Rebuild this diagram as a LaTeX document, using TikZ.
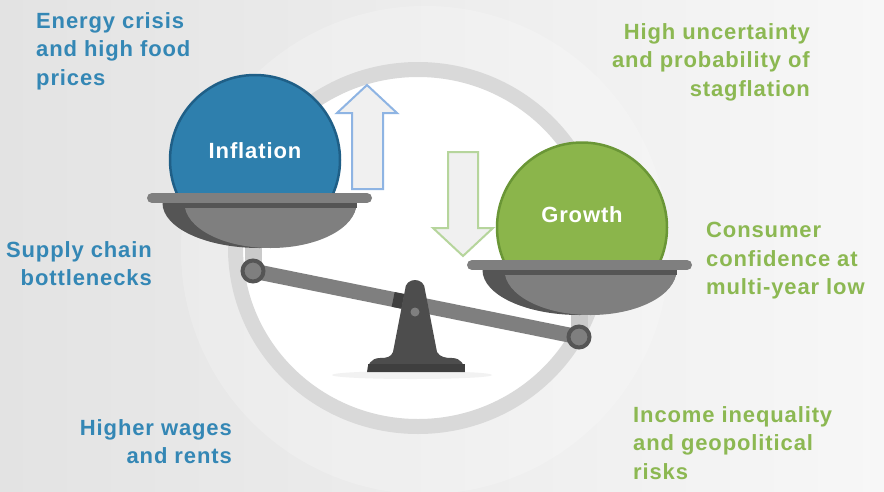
\documentclass[tikz,border=0pt]{standalone}
\usepackage{fontspec}
\setmainfont{Liberation Sans}[LetterSpace=4]
\usepackage{xcolor}
\usetikzlibrary{positioning, calc}

\definecolor{inflblue}{HTML}{2E7FAD}
\definecolor{infldark}{HTML}{1F5F87}
\definecolor{textblue}{HTML}{3487B5}
\definecolor{growgreen}{HTML}{8BB54B}
\definecolor{growdark}{HTML}{6A9636}
\definecolor{textgreen}{HTML}{8CB852}
\definecolor{arrowblue}{HTML}{8EB4E3}
\definecolor{arrowgreen}{HTML}{B6D59C}
\definecolor{ringgray}{HTML}{D9D9D9}
\definecolor{hangergray}{HTML}{CACACA}
\definecolor{pangray}{HTML}{7F7F7F}
\definecolor{pandark}{HTML}{555555}
\definecolor{standgray}{HTML}{4D4D4D}
\definecolor{standdark}{HTML}{3F3F3F}
\definecolor{bglight}{HTML}{F0F0F0}
\definecolor{bgleft}{HTML}{E3E3E3}
\definecolor{bgright}{HTML}{F7F7F7}

\tikzset{
  side text/.style={font=\fontsize{22}{28.5}\selectfont\bfseries, inner sep=0pt},
  ball/.style={circle, minimum size=170pt, line width=2.5pt, inner sep=0pt},
  ball text/.style={font=\fontsize{22}{26}\selectfont\bfseries, text=white, inner sep=0pt},
  hollow arrow/.style={line width=2pt, fill=bglight, line join=miter},
}

\begin{document}
\begin{tikzpicture}[x=1pt, y=-1pt]
\useasboundingbox (0,0) rectangle (884,491);
\clip (0,0) rectangle (884,491);

% Background
\shade[left color=bgleft, right color=bgright] (0,0) rectangle (884,491);
\fill[white, opacity=0.2] (425,250) circle (244pt);
\draw[ringgray, line width=15pt, fill=white] (418,248) ellipse [x radius=182.5pt, y radius=178.5pt];

% Up and down arrows
\draw[hollow arrow, draw=arrowblue] (352,189) -- (352,113) -- (337,113) -- (367,85)
  -- (397,113) -- (383,113) -- (383,189) -- cycle;
\draw[hollow arrow, draw=arrowgreen] (448,152) -- (478,152) -- (478,228) -- (493,228)
  -- (463,256) -- (433,228) -- (448,228) -- cycle;

% Balls
\node[ball, fill=inflblue, draw=infldark,
  label={[ball text, yshift=9pt]center:Inflation}] (inflation) at (255,160) {};
\node[ball, fill=growgreen, draw=growdark,
  label={[ball text, yshift=13pt]center:Growth}] (growth) at (582,227.5) {};

% Beam ends
\coordinate (lpivot) at (253,271);
\coordinate (rpivot) at (579,337);

% Hangers
\draw[hangergray, line width=17pt] (lpivot) -- (253,235);
\draw[hangergray, line width=17pt] (rpivot) -- (579,300);

% Pans
\foreach \px/\py in {259.5/198, 579.5/265} {
  \begin{scope}
    \clip (\px-100,\py+5) rectangle (\px+100,\py+55);
    \fill[pandark] (\px,\py+5) ellipse [x radius=97pt, y radius=45pt];
    \fill[pangray] (\px+11,\py+5) ellipse [x radius=86pt, y radius=45pt];
    \fill[pandark] (\px-97,\py+5) rectangle (\px+97,\py+10);
  \end{scope}
  \draw[pangray, line width=10pt, line cap=round] (\px-107.5,\py) -- (\px+107.5,\py);
}

% Shadow
\fill[gray!10] (412,375) ellipse [x radius=80pt, y radius=4pt];

% Beam
\draw[pangray, line width=15pt] (lpivot) -- (rpivot);
\draw[standdark, line width=15pt] ($(lpivot)!0.43!(rpivot)$) -- ($(lpivot)!0.46!(rpivot)$);

% Stand
\fill[standgray] (393,352) -- (405,290) .. controls (405,276.7) and (425,276.7) .. (425,290)
  -- (437,352) .. controls (440,357) and (445,358) .. (452,358)
  .. controls (461,358) and (465,365) .. (465,372) -- (367,372)
  .. controls (367,365) and (371,358) .. (380,358)
  .. controls (387,358) and (391,357) .. (393,352) -- cycle;
\fill[standdark] (367.5,364) rectangle (464.5,372);
\fill[pangray] (415,312) circle (4.5pt);

% Pivots
\foreach \p in {lpivot, rpivot}
  \draw[pandark, fill=pangray, line width=4pt] (\p) circle (10.5pt);

% Side texts
\node[side text, text=textblue, anchor=north west, align=left] (energy) at (36,12)
  {Energy crisis\\and high food\\prices};
\node[side text, text=textblue, anchor=north east, align=right] (supply) at (152,241)
  {Supply chain\\bottlenecks};
\node[side text, text=textblue, anchor=north east, align=right] (wages) at (232,419)
  {Higher wages\\and rents};
\node[side text, text=textgreen, anchor=north east, align=right] (uncert) at (810,23)
  {High uncertainty\\and probability of\\stagflation};
\node[side text, text=textgreen, anchor=north west, align=left] (consumer) at (706,222)
  {Consumer\\confidence at\\multi-year low};
\node[side text, text=textgreen, anchor=north west, align=left] (income) at (633,406)
  {Income inequality\\and geopolitical\\risks};
\end{tikzpicture}
\end{document}
